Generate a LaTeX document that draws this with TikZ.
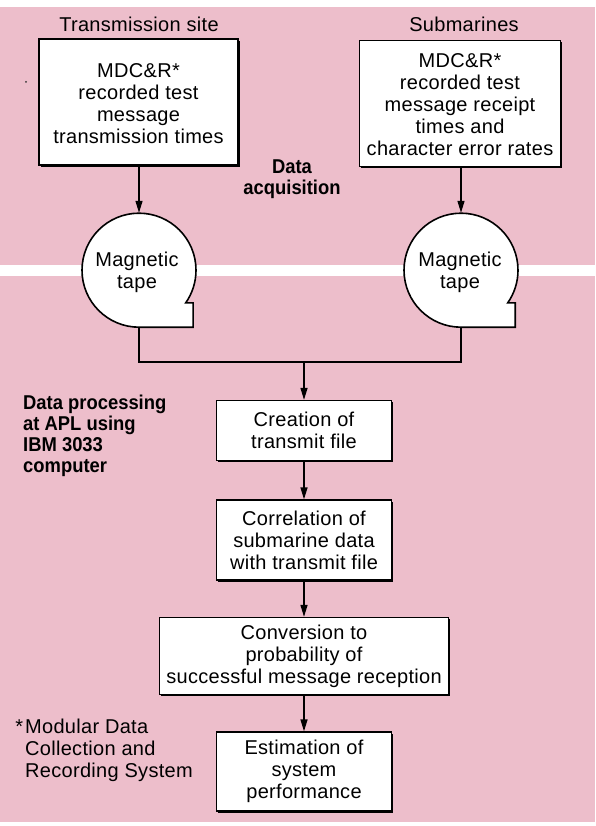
\documentclass[tikz,border=0pt]{standalone}
\usepackage{fontspec}
\setmainfont{Liberation Sans}[LetterSpace=1.5]
\newfontfamily\boldlab{Liberation Sans}[FakeStretch=0.92]
\usetikzlibrary{arrows.meta,shadows}
\definecolor{bgpink}{RGB}{237,190,203}
\tikzset{
  txt/.style={font=\fontsize{20pt}{22pt}\selectfont, align=center, inner sep=0pt},
  lab/.style={font=\boldlab\bfseries\fontsize{20pt}{21pt}\selectfont, inner sep=0pt},
  box/.style={draw, line width=1.3pt, fill=white, txt,
    drop shadow={shadow xshift=1.6pt, shadow yshift=-1.6pt, fill=black, opacity=1}},
  conn/.style={line width=1.4pt},
  arr/.style={conn, -{Triangle[width=7pt,length=12pt]}},
  tapeline/.style={line width=1.6pt, fill=white},
  tapecirc/.style={circle, minimum size=114pt, inner sep=0pt},
}
\begin{document}
\begin{tikzpicture}[x=1pt, y=-1pt]
\useasboundingbox (0,0) rectangle (595,826);
% background
\fill[white] (0,0) rectangle (595,826);
\fill[bgpink] (0,7) rectangle (595,265);
\fill[bgpink] (0,276) rectangle (595,822);
\fill[black!80] (26,82) circle (1pt);

% headings
\node[txt] (h1) at (139,24) {Transmission site};
\node[txt] (h2) at (464,24) {Submarines};

% top boxes
\node[box, minimum width=199pt, minimum height=126pt] (b1) at (138.5,102)
  {\rule{0pt}{18pt}MDC\&R*\\recorded test\\message\\transmission times};
\node[box, minimum width=201pt, minimum height=126pt] (b2) at (460,103.5)
  {\rule{0pt}{17pt}MDC\&R*\\recorded test\\message receipt\\times and\\character error rates};

\node[lab, align=center] (da) at (292,179) {Data\\acquisition};

% tapes
\node[tapecirc] (t1) at (139,270) {};
\node[tapecirc] (t2) at (461,270) {};
\draw[tapeline] (t1.south) arc[start angle=90, end angle=395, radius=57]
  -- ++(7.5,0) |- (t1.south) -- cycle;
\draw[tapeline] (t2.south) arc[start angle=90, end angle=395, radius=57]
  -- ++(7.5,0) |- (t2.south) -- cycle;
\node[txt] (t1l) at (137,272) {Magnetic\\tape};
\node[txt] (t2l) at (460,272) {Magnetic\\tape};

\draw[arr] (b1.south -| t1.north) -- (t1.north);
\draw[arr] (b2.south -| t2.north) -- (t2.north);

% processing boxes
\node[box, minimum width=175pt, minimum height=60pt] (b3) at (304,430.5)
  {Creation of\\transmit file};
\node[box, minimum width=175pt, minimum height=80pt] (b4) at (304,540)
  {Correlation of\\submarine data\\with transmit file};
\node[box, minimum width=289pt, minimum height=77pt] (b5) at (304,656)
  {Conversion to\\probability of\\successful message reception};
\node[box, minimum width=175pt, minimum height=79pt] (b6) at (304,771.5)
  {Estimation of\\system\\performance};

\coordinate (j) at (304,362);
\draw[conn] (t1.south) |- (j) -| (t2.south);
\draw[arr] (j) -- (b3.north);
\draw[arr] (b3.south) -- (b4.north);
\draw[arr] (b4.south) -- (b5.north);
\draw[arr] (b5.south) -- (b6.north);

% side labels
\node[lab, align=left, anchor=west] (dp) at (23,436)
  {Data processing\\at APL using\\IBM 3033\\computer};
\node[txt, align=left, anchor=west] (fn) at (25,750)
  {\llap{*\kern2pt}Modular Data\\Collection and\\Recording System};
\end{tikzpicture}
\end{document}
